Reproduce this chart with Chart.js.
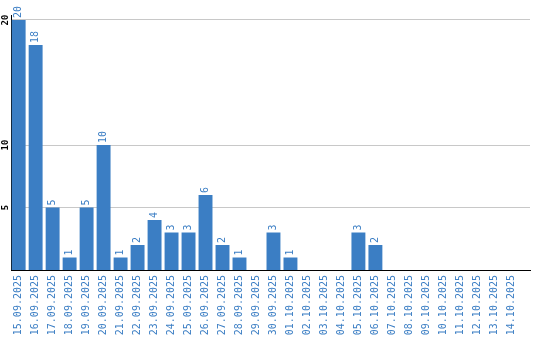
<!DOCTYPE html>
<html>
<head>
<meta charset="utf-8">
<script src="https://cdn.jsdelivr.net/npm/chart.js@4"></script>
<style>
  html, body { margin: 0; padding: 0; background: #fff; }
  #wrap { width: 540px; height: 340px; }
</style>
</head>
<body>
<div id="wrap"><canvas id="canvas"></canvas></div>
<script>
const dates = [
    '15.09.2025', '16.09.2025', '17.09.2025', '18.09.2025', '19.09.2025',
    '20.09.2025', '21.09.2025', '22.09.2025', '23.09.2025', '24.09.2025',
    '25.09.2025', '26.09.2025', '27.09.2025', '28.09.2025', '29.09.2025',
    '30.09.2025', '01.10.2025', '02.10.2025', '03.10.2025', '04.10.2025',
    '05.10.2025', '06.10.2025', '07.10.2025', '08.10.2025', '09.10.2025',
    '10.10.2025', '11.10.2025', '12.10.2025', '13.10.2025', '14.10.2025'
]
const counts = [20, 18, 5, 1, 5, 10, 1, 2, 4, 3, 3, 6, 2, 1, 0, 3, 1, 0, 0, 0, 3, 2, 0, 0, 0, 0, 0, 0, 0, 0]
const yTicks = [5, 10, 20]

const blue = '#3b7ec4'
const font = 'DejaVu Sans Mono'

// value labels, rotated, above each bar
const barLabels = {
    id: 'barLabels',
    afterDatasetsDraw(chart) {
        const ctx = chart.ctx
        const meta = chart.getDatasetMeta(0)
        ctx.save()
        ctx.fillStyle = blue
        ctx.font = `10px "${font}"`
        ctx.textAlign = 'left'
        ctx.textBaseline = 'middle'
        meta.data.forEach((bar, i) => {
            const v = counts[i]
            if (!v) return
            ctx.save()
            ctx.translate(bar.x, bar.y - 2)
            ctx.rotate(-Math.PI / 2)
            ctx.fillText(String(v), 0, 0)
            ctx.restore()
        })
        ctx.restore()
    }
}

let context = document.getElementById('canvas').getContext('2d')

new Chart(context, {
    type: 'bar',
    data: {
        datasets: [{
            data: counts.map((v, i) => ({ x: i, y: v })),
            backgroundColor: blue,
            barPercentage: 0.82,
            categoryPercentage: 1,
        }]
    },
    options: {
        responsive: true,
        maintainAspectRatio: false,
        animation: false,
        layout: { padding: { top: 15, right: 10, left: 0, bottom: 0 } },
        plugins: {
            legend: { display: false },
            tooltip: { enabled: false }
        },
        scales: {
            x: {
                type: 'linear',
                offset: false,
                min: -0.45,
                max: 30.1,
                afterBuildTicks: scale => {
                    scale.ticks = dates.map((d, i) => ({ value: i }))
                },
                afterFit: scale => {
                    scale.height = 70
                    scale.paddingLeft = 0
                    scale.paddingRight = 0
                },
                grid: { display: false, drawTicks: false, offset: false },
                border: { display: true, color: '#000', width: 1 },
                ticks: {
                    autoSkip: false,
                    minRotation: 90,
                    maxRotation: 90,
                    padding: 5,
                    color: blue,
                    font: { size: 10, family: font },
                    callback: v => dates[v]
                }
            },
            y: {
                min: 0,
                max: 20.4,
                afterBuildTicks: scale => {
                    scale.ticks = yTicks.map(v => ({ value: v }))
                },
                afterFit: scale => {
                    scale.width = 11
                    scale.paddingTop = 0
                    scale.paddingBottom = 0
                },
                grid: { color: '#c8c8c8', drawTicks: false },
                border: { display: true, color: '#000', width: 1 },
                ticks: {
                    minRotation: 90,
                    maxRotation: 90,
                    crossAlign: 'center',
                    padding: 0,
                    color: '#000',
                    font: { size: 9, family: font, weight: 'bold' }
                }
            }
        }
    },
    plugins: [barLabels]
})
</script>
</body>
</html>
